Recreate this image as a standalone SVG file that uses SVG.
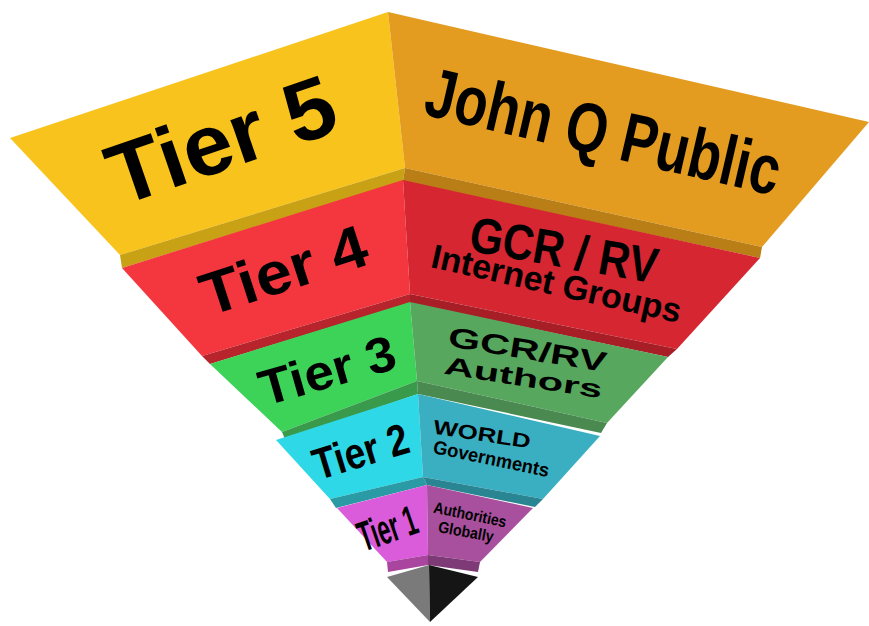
<svg xmlns="http://www.w3.org/2000/svg" width="869" height="626" viewBox="0 0 869 626">
<style>
.t{font-family:"Liberation Sans",Arial,Helvetica,sans-serif;font-weight:bold;fill:#000;text-anchor:middle}
</style>
<rect width="869" height="626" fill="#fff"/>
<g id="tier5">
<polygon points="10,138 388,12 405,168 120,255" fill="#F8C31C"/>
<polygon points="388,12 869,122 762,247 405,168" fill="#E39B20"/>
<polygon points="120,255 405,168 403,181 122,268" fill="#C9A114"/>
<polygon points="405,168 762,247 760,258 403,181" fill="#B97F16"/>
<text class="t" font-size="86" textLength="236" lengthAdjust="spacingAndGlyphs" transform="translate(231,168) rotate(-19)">Tier 5</text>
<text class="t" font-size="70" textLength="362" lengthAdjust="spacingAndGlyphs" transform="translate(598,155) rotate(13)">John Q Public</text>
</g>
<g id="tier4">
<polygon points="122,268 403,180 410,294 202,356" fill="#F4363F"/>
<polygon points="403,180 760,258 677,349 410,294" fill="#D52631"/>
<polygon points="202,356 410,294 410,303 210,364" fill="#B8242C"/>
<polygon points="410,294 677,349 668,357 410,303" fill="#A81E27"/>
<text class="t" font-size="60" textLength="172" lengthAdjust="spacingAndGlyphs" transform="translate(290,290) rotate(-18)">Tier 4</text>
<text class="t" font-size="50" textLength="190" lengthAdjust="spacingAndGlyphs" transform="translate(561,267) rotate(10)">GCR / RV</text>
<text class="t" font-size="34" textLength="255" lengthAdjust="spacingAndGlyphs" transform="translate(554,295) rotate(12.7)">Internet Groups</text>
</g>
<g id="tier3">
<polygon points="210,364 410,302 417,381 282,432" fill="#3CD358"/>
<polygon points="410,302 668,357 607,423 417,381" fill="#58A75E"/>
<polygon points="282,432 417,381 418,394 285,439" fill="#3A9A4C"/>
<polygon points="417,381 607,423 601,433 418,394" fill="#4A8A50"/>
<text class="t" font-size="50" textLength="140" lengthAdjust="spacingAndGlyphs" transform="translate(332,387) rotate(-16)">Tier 3</text>
<text class="t" font-size="28" textLength="160" lengthAdjust="spacingAndGlyphs" transform="translate(526,359) rotate(9.3)">GCR/RV</text>
<text class="t" font-size="25" textLength="160" lengthAdjust="spacingAndGlyphs" transform="translate(522,386) rotate(8.9)">Authors</text>
</g>
<g id="tier2">
<polygon points="276,440 418,394 423,477 330,499" fill="#2ED8E6"/>
<polygon points="418,394 600,436 543,499 423,477" fill="#3AAFC2"/>
<polygon points="330,499 423,477 427,485 336,508" fill="#2A9AA4"/>
<polygon points="423,477 543,499 535,507 427,485" fill="#2A8592"/>
<text class="t" font-size="44" textLength="98" lengthAdjust="spacingAndGlyphs" transform="translate(365,466) rotate(-17)">Tier 2</text>
<text class="t" font-size="20" textLength="98" lengthAdjust="spacingAndGlyphs" transform="translate(481,441) rotate(8.7)">WORLD</text>
<text class="t" font-size="19" textLength="118" lengthAdjust="spacingAndGlyphs" transform="translate(490,465) rotate(11.8)">Governments</text>
</g>
<g id="tier1">
<polygon points="337,508 427,485 428,555 387,562" fill="#DB5CDA"/>
<polygon points="427,485 533,508 480,562 428,555" fill="#A8509E"/>
<polygon points="387,562 428,555 428,565 388,572" fill="#A9449F"/>
<polygon points="428,555 480,562 478,572 428,565" fill="#7E3A76"/>
<text class="t" font-size="42" textLength="60" lengthAdjust="spacingAndGlyphs" transform="translate(392,542) rotate(-19)">Tier 1</text>
<text class="t" font-size="16" textLength="74" lengthAdjust="spacingAndGlyphs" transform="translate(469,520) rotate(11.7)">Authorities</text>
<text class="t" font-size="16" textLength="56" lengthAdjust="spacingAndGlyphs" transform="translate(465,537) rotate(10.5)">Globally</text>
</g>
<g id="tip">
<polygon points="387,577 429,565 430,622" fill="#7A7A7A"/>
<polygon points="429,565 478,577 430,622" fill="#151515"/>
</g>
</svg>
